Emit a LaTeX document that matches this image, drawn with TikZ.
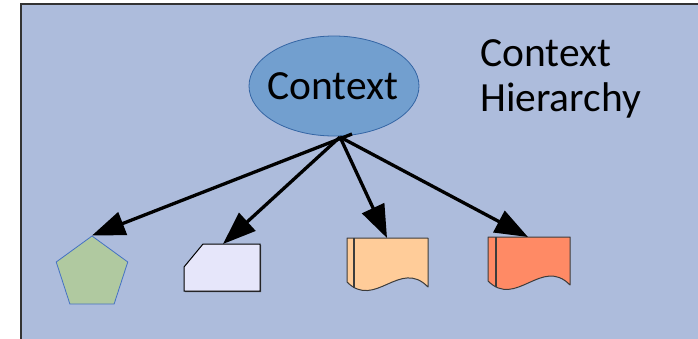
\documentclass[tikz,border=0pt]{standalone}
\usepackage{fontspec}
\setmainfont{Carlito}
\usetikzlibrary{arrows.meta,shapes.geometric}
\definecolor{bgblue}{RGB}{173,188,220}
\definecolor{frameline}{RGB}{51,51,51}
\definecolor{ellfill}{RGB}{114,159,207}
\definecolor{elldraw}{RGB}{52,101,164}
\definecolor{pentfill}{RGB}{176,201,160}
\definecolor{pentdraw}{RGB}{69,114,196}
\definecolor{cardfill}{RGB}{230,230,250}
\definecolor{docafill}{RGB}{255,204,153}
\definecolor{docbfill}{RGB}{255,138,101}
\definecolor{docline}{RGB}{60,60,60}
\tikzset{
  bigtext/.style={font=\fontsize{41.5bp}{46bp}\selectfont, inner sep=0pt},
  link/.style={line width=3.3bp, -{Triangle[length=33bp,width=24bp]}},
  docshape/.style={draw=docline, line width=1bp, line join=round},
}
\begin{document}
\begin{tikzpicture}[x=1bp,y=-1bp]
\useasboundingbox (0,0) rectangle (698,338);
% frame
\fill[white] (0,0) rectangle (698,338);
\filldraw[fill=bgblue, draw=frameline, line width=1.5bp] (21,4) rectangle (710,350);
% root ellipse
\node[ellipse, minimum width=170bp, minimum height=100bp, inner sep=0pt,
      fill=ellfill, draw=elldraw, line width=0.8bp] (ctx) at (334,86) {};
\node[bigtext] (ctxtext) at (333,86) {Context};
% title
\node[bigtext, anchor=base west] (title1) at (480,66) {Context};
\node[bigtext, anchor=base west] (title2) at (480,111) {Hierarchy};
% pentagon
\node[regular polygon, regular polygon sides=5, minimum size=75.2bp, inner sep=0pt,
      fill=pentfill, draw=pentdraw, line width=0.8bp] (pent) at (92,273.6) {};
% card (cut corner)
\filldraw[fill=gray!70!black, draw=none] (185,268) -- (204,245) -- (261,245) -- (261,292) -- (185,292) -- cycle;
\filldraw[fill=cardfill, draw=black, line width=1bp] (184,267) -- (203,244) -- (260,244) -- (260,291) -- (184,291) -- cycle;
\coordinate (cardtop) at (223,244);
% document A
\filldraw[fill=docafill, docshape] (347,238) -- (428,238) -- (428,287)
   .. controls (400,258) and (375,310) .. (347,282) -- cycle;
\draw[docline, line width=1.2bp] (354,238) -- (354,288);
\coordinate (docatop) at (387,238);
% document B
\filldraw[fill=docbfill, docshape] (488,237) -- (570,237) -- (570,285)
   .. controls (542,256) and (516,309) .. (488,281) -- cycle;
\draw[docline, line width=1.2bp] (496,237) -- (496,287);
\coordinate (docbtop) at (528,237);
% connectors
\coordinate (hub) at (340,137);
\coordinate (hubb) at (352,134);
\draw[link] (hubb) -- (pent.corner 1);
\draw[link] (hub) -- (cardtop);
\draw[link] (hub) -- (docatop);
\draw[link] (hub) -- (docbtop);
\end{tikzpicture}
\end{document}
